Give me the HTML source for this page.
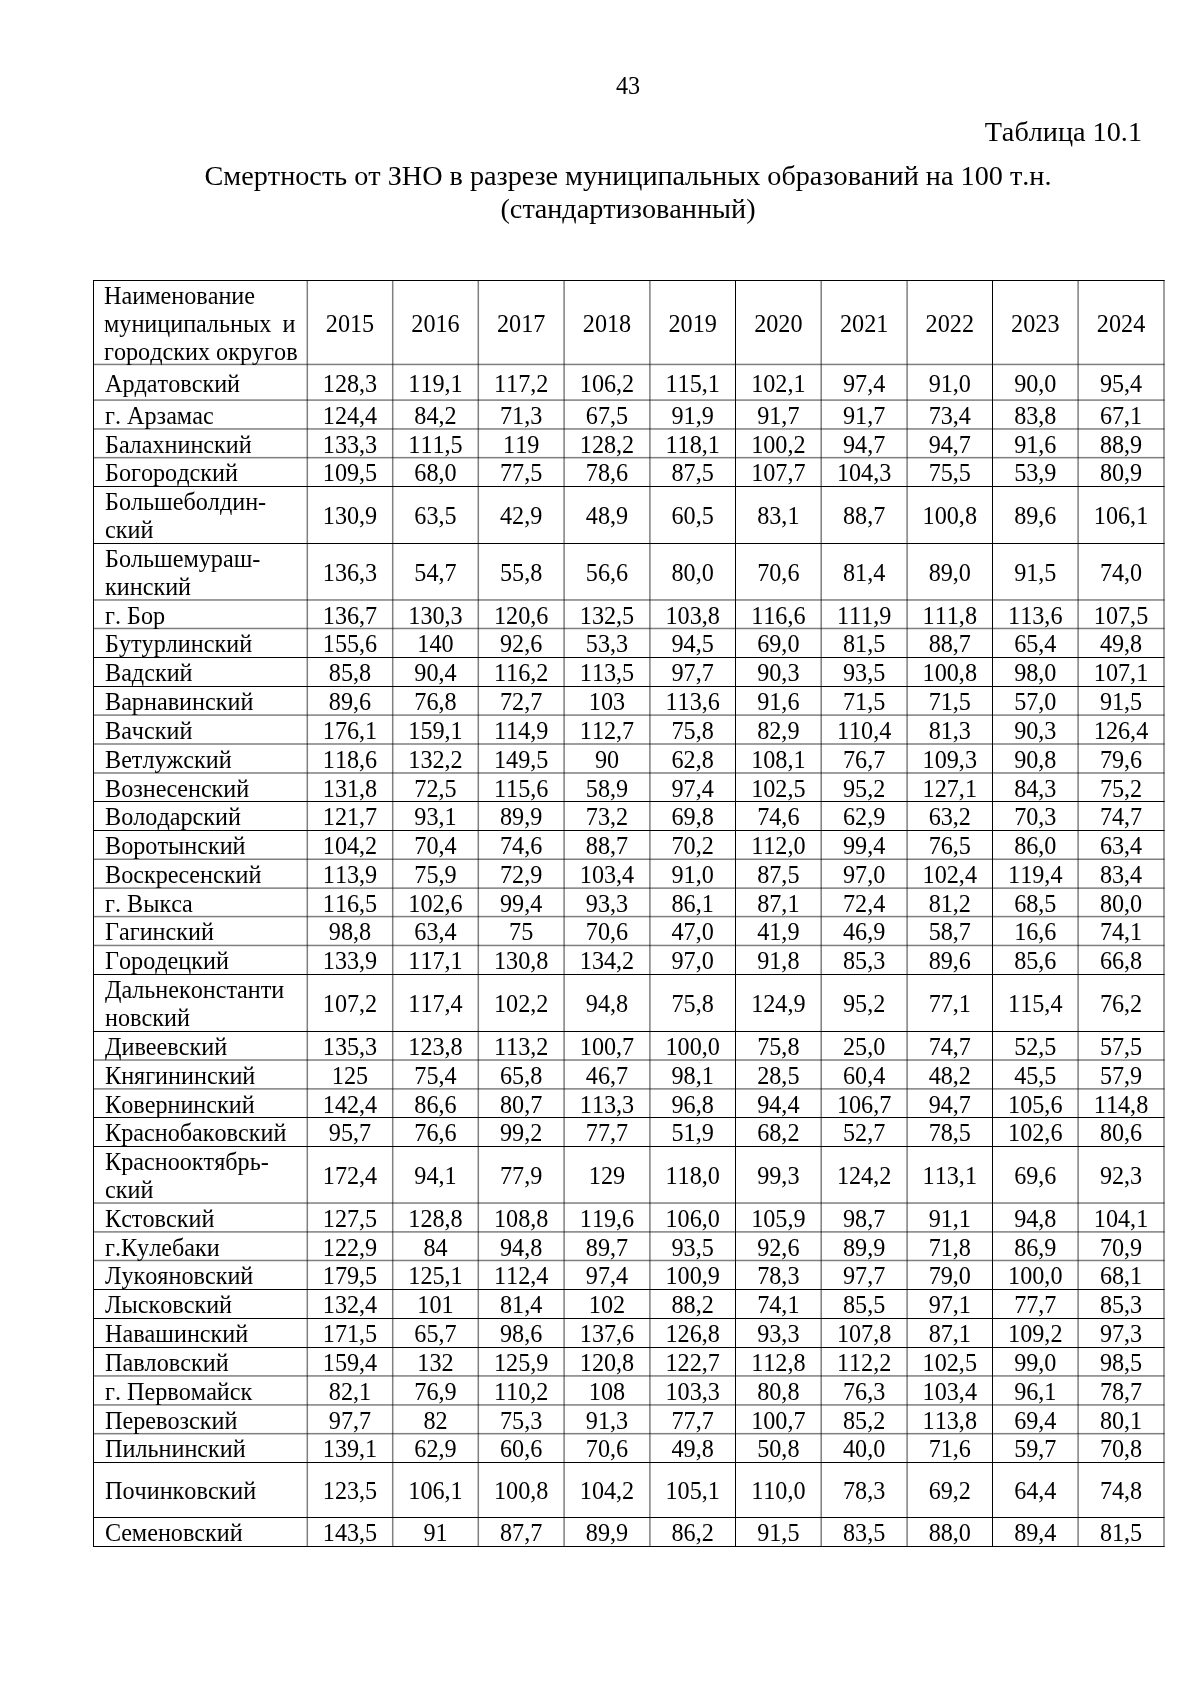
<!DOCTYPE html>
<html lang="ru"><head><meta charset="utf-8"><title>Таблица 10.1</title>
<style>
html,body{margin:0;padding:0;background:#fff}
#pg{position:relative;will-change:transform;width:1200px;height:1697px;overflow:hidden;background:#fff;color:#000}
#pg div{position:absolute;white-space:nowrap;font-kerning:none;font-variant-ligatures:none}
.t12{font-family:"Liberation Serif","Times New Roman",serif;font-size:24.19px;line-height:28px}
.t14{font-family:"Liberation Serif","Times New Roman",serif;font-size:28.22px;line-height:32px}
.c{text-align:center}
.r{text-align:right}
</style></head><body><div id="pg">
<div class="t12 c" style="left:528.0px;top:72px;width:200px">43</div>
<div class="t14 r" style="left:742px;top:116px;width:400px">Таблица 10.1</div>
<div class="t14 c" style="left:128.0px;top:160px;width:1000px">Смертность от ЗНО в разрезе муниципальных образований на 100 т.н.</div>
<div class="t14 c" style="left:128.0px;top:193px;width:1000px">(стандартизованный)</div>
<svg width="1200" height="1697" viewBox="0 0 1200 1697" style="position:absolute;left:0;top:0"><rect x="93" y="280" width="1071.6" height="1"/><rect x="93" y="363.69" width="1071.6" height="1.5" fill-opacity="0.5"/><rect x="93" y="399.34" width="1071.6" height="1.5" fill-opacity="0.5"/><rect x="93" y="428.21" width="1071.6" height="1.5" fill-opacity="0.5"/><rect x="93" y="456.91" width="1071.6" height="1.5" fill-opacity="0.5"/><rect x="93" y="486" width="1071.6" height="1"/><rect x="93" y="543" width="1071.6" height="1"/><rect x="93" y="599.22" width="1071.6" height="1.5" fill-opacity="0.5"/><rect x="93" y="627.74" width="1071.6" height="1.5" fill-opacity="0.5"/><rect x="93" y="657" width="1071.6" height="1"/><rect x="93" y="686" width="1071.6" height="1"/><rect x="93" y="714.35" width="1071.6" height="1.5" fill-opacity="0.5"/><rect x="93" y="743.25" width="1071.6" height="1.5" fill-opacity="0.5"/><rect x="93" y="772.23" width="1071.6" height="1.5" fill-opacity="0.5"/><rect x="93" y="801" width="1071.6" height="1"/><rect x="93" y="830" width="1071.6" height="1"/><rect x="93" y="858.50" width="1071.6" height="1.5" fill-opacity="0.5"/><rect x="93" y="887.38" width="1071.6" height="1.5" fill-opacity="0.5"/><rect x="93" y="915.84" width="1071.6" height="1.5" fill-opacity="0.5"/><rect x="93" y="944.71" width="1071.6" height="1.5" fill-opacity="0.5"/><rect x="93" y="974" width="1071.6" height="1"/><rect x="93" y="1031" width="1071.6" height="1"/><rect x="93" y="1059.27" width="1071.6" height="1.5" fill-opacity="0.5"/><rect x="93" y="1088.14" width="1071.6" height="1.5" fill-opacity="0.5"/><rect x="93" y="1117" width="1071.6" height="1"/><rect x="93" y="1146" width="1071.6" height="1"/><rect x="93" y="1202.29" width="1071.6" height="1.5" fill-opacity="0.5"/><rect x="93" y="1231.15" width="1071.6" height="1.5" fill-opacity="0.5"/><rect x="93" y="1259.74" width="1071.6" height="1.5" fill-opacity="0.5"/><rect x="93" y="1289" width="1071.6" height="1"/><rect x="93" y="1318" width="1071.6" height="1"/><rect x="93" y="1347" width="1071.6" height="1"/><rect x="93" y="1375.18" width="1071.6" height="1.5" fill-opacity="0.5"/><rect x="93" y="1404.17" width="1071.6" height="1.5" fill-opacity="0.5"/><rect x="93" y="1432.93" width="1071.6" height="1.5" fill-opacity="0.5"/><rect x="93" y="1462" width="1071.6" height="1"/><rect x="93" y="1517" width="1071.6" height="1"/><rect x="93" y="1546" width="1071.6" height="1"/><rect x="93" y="280" width="1" height="1267"/><rect x="306.55" y="280" width="1.5" height="1267" fill-opacity="0.5"/><rect x="391.95" y="280" width="1.5" height="1267" fill-opacity="0.5"/><rect x="477.55" y="280" width="1.5" height="1267" fill-opacity="0.5"/><rect x="563.35" y="280" width="1.5" height="1267" fill-opacity="0.5"/><rect x="649.15" y="280" width="1.5" height="1267" fill-opacity="0.5"/><rect x="735" y="280" width="1" height="1267"/><rect x="820.45" y="280" width="1.5" height="1267" fill-opacity="0.5"/><rect x="906.35" y="280" width="1.5" height="1267" fill-opacity="0.5"/><rect x="992" y="280" width="1" height="1267"/><rect x="1077.35" y="280" width="1.5" height="1267" fill-opacity="0.5"/><rect x="1163.25" y="280" width="1.5" height="1267" fill-opacity="0.5"/></svg>
<div class="t12" style="left:104px;top:282px">Наименование</div>
<div class="t12" style="left:104px;top:310px">муниципальных</div>
<div class="t12 r" style="left:-104.5px;top:310px;width:400px">и</div>
<div class="t12" style="left:104px;top:338px">городских округов</div>
<div class="t12 c" style="left:250.0px;top:310px;width:200px">2015</div>
<div class="t12 c" style="left:335.5px;top:310px;width:200px">2016</div>
<div class="t12 c" style="left:421.2px;top:310px;width:200px">2017</div>
<div class="t12 c" style="left:507.0px;top:310px;width:200px">2018</div>
<div class="t12 c" style="left:592.7px;top:310px;width:200px">2019</div>
<div class="t12 c" style="left:678.35px;top:310px;width:200px">2020</div>
<div class="t12 c" style="left:764.15px;top:310px;width:200px">2021</div>
<div class="t12 c" style="left:849.8px;top:310px;width:200px">2022</div>
<div class="t12 c" style="left:935.3px;top:310px;width:200px">2023</div>
<div class="t12 c" style="left:1021.05px;top:310px;width:200px">2024</div>
<div class="t12" style="left:105px;top:370px">Ардатовский</div>
<div class="t12 c" style="left:250.0px;top:370px;width:200px">128,3</div>
<div class="t12 c" style="left:335.5px;top:370px;width:200px">119,1</div>
<div class="t12 c" style="left:421.2px;top:370px;width:200px">117,2</div>
<div class="t12 c" style="left:507.0px;top:370px;width:200px">106,2</div>
<div class="t12 c" style="left:592.7px;top:370px;width:200px">115,1</div>
<div class="t12 c" style="left:678.35px;top:370px;width:200px">102,1</div>
<div class="t12 c" style="left:764.15px;top:370px;width:200px">97,4</div>
<div class="t12 c" style="left:849.8px;top:370px;width:200px">91,0</div>
<div class="t12 c" style="left:935.3px;top:370px;width:200px">90,0</div>
<div class="t12 c" style="left:1021.05px;top:370px;width:200px">95,4</div>
<div class="t12" style="left:105px;top:402px">г. Арзамас</div>
<div class="t12 c" style="left:250.0px;top:402px;width:200px">124,4</div>
<div class="t12 c" style="left:335.5px;top:402px;width:200px">84,2</div>
<div class="t12 c" style="left:421.2px;top:402px;width:200px">71,3</div>
<div class="t12 c" style="left:507.0px;top:402px;width:200px">67,5</div>
<div class="t12 c" style="left:592.7px;top:402px;width:200px">91,9</div>
<div class="t12 c" style="left:678.35px;top:402px;width:200px">91,7</div>
<div class="t12 c" style="left:764.15px;top:402px;width:200px">91,7</div>
<div class="t12 c" style="left:849.8px;top:402px;width:200px">73,4</div>
<div class="t12 c" style="left:935.3px;top:402px;width:200px">83,8</div>
<div class="t12 c" style="left:1021.05px;top:402px;width:200px">67,1</div>
<div class="t12" style="left:105px;top:431px">Балахнинский</div>
<div class="t12 c" style="left:250.0px;top:431px;width:200px">133,3</div>
<div class="t12 c" style="left:335.5px;top:431px;width:200px">111,5</div>
<div class="t12 c" style="left:421.2px;top:431px;width:200px">119</div>
<div class="t12 c" style="left:507.0px;top:431px;width:200px">128,2</div>
<div class="t12 c" style="left:592.7px;top:431px;width:200px">118,1</div>
<div class="t12 c" style="left:678.35px;top:431px;width:200px">100,2</div>
<div class="t12 c" style="left:764.15px;top:431px;width:200px">94,7</div>
<div class="t12 c" style="left:849.8px;top:431px;width:200px">94,7</div>
<div class="t12 c" style="left:935.3px;top:431px;width:200px">91,6</div>
<div class="t12 c" style="left:1021.05px;top:431px;width:200px">88,9</div>
<div class="t12" style="left:105px;top:459px">Богородский</div>
<div class="t12 c" style="left:250.0px;top:459px;width:200px">109,5</div>
<div class="t12 c" style="left:335.5px;top:459px;width:200px">68,0</div>
<div class="t12 c" style="left:421.2px;top:459px;width:200px">77,5</div>
<div class="t12 c" style="left:507.0px;top:459px;width:200px">78,6</div>
<div class="t12 c" style="left:592.7px;top:459px;width:200px">87,5</div>
<div class="t12 c" style="left:678.35px;top:459px;width:200px">107,7</div>
<div class="t12 c" style="left:764.15px;top:459px;width:200px">104,3</div>
<div class="t12 c" style="left:849.8px;top:459px;width:200px">75,5</div>
<div class="t12 c" style="left:935.3px;top:459px;width:200px">53,9</div>
<div class="t12 c" style="left:1021.05px;top:459px;width:200px">80,9</div>
<div class="t12" style="left:105px;top:488px">Большеболдин-</div>
<div class="t12" style="left:105px;top:516px">ский</div>
<div class="t12 c" style="left:250.0px;top:502px;width:200px">130,9</div>
<div class="t12 c" style="left:335.5px;top:502px;width:200px">63,5</div>
<div class="t12 c" style="left:421.2px;top:502px;width:200px">42,9</div>
<div class="t12 c" style="left:507.0px;top:502px;width:200px">48,9</div>
<div class="t12 c" style="left:592.7px;top:502px;width:200px">60,5</div>
<div class="t12 c" style="left:678.35px;top:502px;width:200px">83,1</div>
<div class="t12 c" style="left:764.15px;top:502px;width:200px">88,7</div>
<div class="t12 c" style="left:849.8px;top:502px;width:200px">100,8</div>
<div class="t12 c" style="left:935.3px;top:502px;width:200px">89,6</div>
<div class="t12 c" style="left:1021.05px;top:502px;width:200px">106,1</div>
<div class="t12" style="left:105px;top:545px">Большемураш-</div>
<div class="t12" style="left:105px;top:573px">кинский</div>
<div class="t12 c" style="left:250.0px;top:559px;width:200px">136,3</div>
<div class="t12 c" style="left:335.5px;top:559px;width:200px">54,7</div>
<div class="t12 c" style="left:421.2px;top:559px;width:200px">55,8</div>
<div class="t12 c" style="left:507.0px;top:559px;width:200px">56,6</div>
<div class="t12 c" style="left:592.7px;top:559px;width:200px">80,0</div>
<div class="t12 c" style="left:678.35px;top:559px;width:200px">70,6</div>
<div class="t12 c" style="left:764.15px;top:559px;width:200px">81,4</div>
<div class="t12 c" style="left:849.8px;top:559px;width:200px">89,0</div>
<div class="t12 c" style="left:935.3px;top:559px;width:200px">91,5</div>
<div class="t12 c" style="left:1021.05px;top:559px;width:200px">74,0</div>
<div class="t12" style="left:105px;top:602px">г. Бор</div>
<div class="t12 c" style="left:250.0px;top:602px;width:200px">136,7</div>
<div class="t12 c" style="left:335.5px;top:602px;width:200px">130,3</div>
<div class="t12 c" style="left:421.2px;top:602px;width:200px">120,6</div>
<div class="t12 c" style="left:507.0px;top:602px;width:200px">132,5</div>
<div class="t12 c" style="left:592.7px;top:602px;width:200px">103,8</div>
<div class="t12 c" style="left:678.35px;top:602px;width:200px">116,6</div>
<div class="t12 c" style="left:764.15px;top:602px;width:200px">111,9</div>
<div class="t12 c" style="left:849.8px;top:602px;width:200px">111,8</div>
<div class="t12 c" style="left:935.3px;top:602px;width:200px">113,6</div>
<div class="t12 c" style="left:1021.05px;top:602px;width:200px">107,5</div>
<div class="t12" style="left:105px;top:630px">Бутурлинский</div>
<div class="t12 c" style="left:250.0px;top:630px;width:200px">155,6</div>
<div class="t12 c" style="left:335.5px;top:630px;width:200px">140</div>
<div class="t12 c" style="left:421.2px;top:630px;width:200px">92,6</div>
<div class="t12 c" style="left:507.0px;top:630px;width:200px">53,3</div>
<div class="t12 c" style="left:592.7px;top:630px;width:200px">94,5</div>
<div class="t12 c" style="left:678.35px;top:630px;width:200px">69,0</div>
<div class="t12 c" style="left:764.15px;top:630px;width:200px">81,5</div>
<div class="t12 c" style="left:849.8px;top:630px;width:200px">88,7</div>
<div class="t12 c" style="left:935.3px;top:630px;width:200px">65,4</div>
<div class="t12 c" style="left:1021.05px;top:630px;width:200px">49,8</div>
<div class="t12" style="left:105px;top:659px">Вадский</div>
<div class="t12 c" style="left:250.0px;top:659px;width:200px">85,8</div>
<div class="t12 c" style="left:335.5px;top:659px;width:200px">90,4</div>
<div class="t12 c" style="left:421.2px;top:659px;width:200px">116,2</div>
<div class="t12 c" style="left:507.0px;top:659px;width:200px">113,5</div>
<div class="t12 c" style="left:592.7px;top:659px;width:200px">97,7</div>
<div class="t12 c" style="left:678.35px;top:659px;width:200px">90,3</div>
<div class="t12 c" style="left:764.15px;top:659px;width:200px">93,5</div>
<div class="t12 c" style="left:849.8px;top:659px;width:200px">100,8</div>
<div class="t12 c" style="left:935.3px;top:659px;width:200px">98,0</div>
<div class="t12 c" style="left:1021.05px;top:659px;width:200px">107,1</div>
<div class="t12" style="left:105px;top:688px">Варнавинский</div>
<div class="t12 c" style="left:250.0px;top:688px;width:200px">89,6</div>
<div class="t12 c" style="left:335.5px;top:688px;width:200px">76,8</div>
<div class="t12 c" style="left:421.2px;top:688px;width:200px">72,7</div>
<div class="t12 c" style="left:507.0px;top:688px;width:200px">103</div>
<div class="t12 c" style="left:592.7px;top:688px;width:200px">113,6</div>
<div class="t12 c" style="left:678.35px;top:688px;width:200px">91,6</div>
<div class="t12 c" style="left:764.15px;top:688px;width:200px">71,5</div>
<div class="t12 c" style="left:849.8px;top:688px;width:200px">71,5</div>
<div class="t12 c" style="left:935.3px;top:688px;width:200px">57,0</div>
<div class="t12 c" style="left:1021.05px;top:688px;width:200px">91,5</div>
<div class="t12" style="left:105px;top:717px">Вачский</div>
<div class="t12 c" style="left:250.0px;top:717px;width:200px">176,1</div>
<div class="t12 c" style="left:335.5px;top:717px;width:200px">159,1</div>
<div class="t12 c" style="left:421.2px;top:717px;width:200px">114,9</div>
<div class="t12 c" style="left:507.0px;top:717px;width:200px">112,7</div>
<div class="t12 c" style="left:592.7px;top:717px;width:200px">75,8</div>
<div class="t12 c" style="left:678.35px;top:717px;width:200px">82,9</div>
<div class="t12 c" style="left:764.15px;top:717px;width:200px">110,4</div>
<div class="t12 c" style="left:849.8px;top:717px;width:200px">81,3</div>
<div class="t12 c" style="left:935.3px;top:717px;width:200px">90,3</div>
<div class="t12 c" style="left:1021.05px;top:717px;width:200px">126,4</div>
<div class="t12" style="left:105px;top:746px">Ветлужский</div>
<div class="t12 c" style="left:250.0px;top:746px;width:200px">118,6</div>
<div class="t12 c" style="left:335.5px;top:746px;width:200px">132,2</div>
<div class="t12 c" style="left:421.2px;top:746px;width:200px">149,5</div>
<div class="t12 c" style="left:507.0px;top:746px;width:200px">90</div>
<div class="t12 c" style="left:592.7px;top:746px;width:200px">62,8</div>
<div class="t12 c" style="left:678.35px;top:746px;width:200px">108,1</div>
<div class="t12 c" style="left:764.15px;top:746px;width:200px">76,7</div>
<div class="t12 c" style="left:849.8px;top:746px;width:200px">109,3</div>
<div class="t12 c" style="left:935.3px;top:746px;width:200px">90,8</div>
<div class="t12 c" style="left:1021.05px;top:746px;width:200px">79,6</div>
<div class="t12" style="left:105px;top:775px">Вознесенский</div>
<div class="t12 c" style="left:250.0px;top:775px;width:200px">131,8</div>
<div class="t12 c" style="left:335.5px;top:775px;width:200px">72,5</div>
<div class="t12 c" style="left:421.2px;top:775px;width:200px">115,6</div>
<div class="t12 c" style="left:507.0px;top:775px;width:200px">58,9</div>
<div class="t12 c" style="left:592.7px;top:775px;width:200px">97,4</div>
<div class="t12 c" style="left:678.35px;top:775px;width:200px">102,5</div>
<div class="t12 c" style="left:764.15px;top:775px;width:200px">95,2</div>
<div class="t12 c" style="left:849.8px;top:775px;width:200px">127,1</div>
<div class="t12 c" style="left:935.3px;top:775px;width:200px">84,3</div>
<div class="t12 c" style="left:1021.05px;top:775px;width:200px">75,2</div>
<div class="t12" style="left:105px;top:803px">Володарский</div>
<div class="t12 c" style="left:250.0px;top:803px;width:200px">121,7</div>
<div class="t12 c" style="left:335.5px;top:803px;width:200px">93,1</div>
<div class="t12 c" style="left:421.2px;top:803px;width:200px">89,9</div>
<div class="t12 c" style="left:507.0px;top:803px;width:200px">73,2</div>
<div class="t12 c" style="left:592.7px;top:803px;width:200px">69,8</div>
<div class="t12 c" style="left:678.35px;top:803px;width:200px">74,6</div>
<div class="t12 c" style="left:764.15px;top:803px;width:200px">62,9</div>
<div class="t12 c" style="left:849.8px;top:803px;width:200px">63,2</div>
<div class="t12 c" style="left:935.3px;top:803px;width:200px">70,3</div>
<div class="t12 c" style="left:1021.05px;top:803px;width:200px">74,7</div>
<div class="t12" style="left:105px;top:832px">Воротынский</div>
<div class="t12 c" style="left:250.0px;top:832px;width:200px">104,2</div>
<div class="t12 c" style="left:335.5px;top:832px;width:200px">70,4</div>
<div class="t12 c" style="left:421.2px;top:832px;width:200px">74,6</div>
<div class="t12 c" style="left:507.0px;top:832px;width:200px">88,7</div>
<div class="t12 c" style="left:592.7px;top:832px;width:200px">70,2</div>
<div class="t12 c" style="left:678.35px;top:832px;width:200px">112,0</div>
<div class="t12 c" style="left:764.15px;top:832px;width:200px">99,4</div>
<div class="t12 c" style="left:849.8px;top:832px;width:200px">76,5</div>
<div class="t12 c" style="left:935.3px;top:832px;width:200px">86,0</div>
<div class="t12 c" style="left:1021.05px;top:832px;width:200px">63,4</div>
<div class="t12" style="left:105px;top:861px">Воскресенский</div>
<div class="t12 c" style="left:250.0px;top:861px;width:200px">113,9</div>
<div class="t12 c" style="left:335.5px;top:861px;width:200px">75,9</div>
<div class="t12 c" style="left:421.2px;top:861px;width:200px">72,9</div>
<div class="t12 c" style="left:507.0px;top:861px;width:200px">103,4</div>
<div class="t12 c" style="left:592.7px;top:861px;width:200px">91,0</div>
<div class="t12 c" style="left:678.35px;top:861px;width:200px">87,5</div>
<div class="t12 c" style="left:764.15px;top:861px;width:200px">97,0</div>
<div class="t12 c" style="left:849.8px;top:861px;width:200px">102,4</div>
<div class="t12 c" style="left:935.3px;top:861px;width:200px">119,4</div>
<div class="t12 c" style="left:1021.05px;top:861px;width:200px">83,4</div>
<div class="t12" style="left:105px;top:890px">г. Выкса</div>
<div class="t12 c" style="left:250.0px;top:890px;width:200px">116,5</div>
<div class="t12 c" style="left:335.5px;top:890px;width:200px">102,6</div>
<div class="t12 c" style="left:421.2px;top:890px;width:200px">99,4</div>
<div class="t12 c" style="left:507.0px;top:890px;width:200px">93,3</div>
<div class="t12 c" style="left:592.7px;top:890px;width:200px">86,1</div>
<div class="t12 c" style="left:678.35px;top:890px;width:200px">87,1</div>
<div class="t12 c" style="left:764.15px;top:890px;width:200px">72,4</div>
<div class="t12 c" style="left:849.8px;top:890px;width:200px">81,2</div>
<div class="t12 c" style="left:935.3px;top:890px;width:200px">68,5</div>
<div class="t12 c" style="left:1021.05px;top:890px;width:200px">80,0</div>
<div class="t12" style="left:105px;top:918px">Гагинский</div>
<div class="t12 c" style="left:250.0px;top:918px;width:200px">98,8</div>
<div class="t12 c" style="left:335.5px;top:918px;width:200px">63,4</div>
<div class="t12 c" style="left:421.2px;top:918px;width:200px">75</div>
<div class="t12 c" style="left:507.0px;top:918px;width:200px">70,6</div>
<div class="t12 c" style="left:592.7px;top:918px;width:200px">47,0</div>
<div class="t12 c" style="left:678.35px;top:918px;width:200px">41,9</div>
<div class="t12 c" style="left:764.15px;top:918px;width:200px">46,9</div>
<div class="t12 c" style="left:849.8px;top:918px;width:200px">58,7</div>
<div class="t12 c" style="left:935.3px;top:918px;width:200px">16,6</div>
<div class="t12 c" style="left:1021.05px;top:918px;width:200px">74,1</div>
<div class="t12" style="left:105px;top:947px">Городецкий</div>
<div class="t12 c" style="left:250.0px;top:947px;width:200px">133,9</div>
<div class="t12 c" style="left:335.5px;top:947px;width:200px">117,1</div>
<div class="t12 c" style="left:421.2px;top:947px;width:200px">130,8</div>
<div class="t12 c" style="left:507.0px;top:947px;width:200px">134,2</div>
<div class="t12 c" style="left:592.7px;top:947px;width:200px">97,0</div>
<div class="t12 c" style="left:678.35px;top:947px;width:200px">91,8</div>
<div class="t12 c" style="left:764.15px;top:947px;width:200px">85,3</div>
<div class="t12 c" style="left:849.8px;top:947px;width:200px">89,6</div>
<div class="t12 c" style="left:935.3px;top:947px;width:200px">85,6</div>
<div class="t12 c" style="left:1021.05px;top:947px;width:200px">66,8</div>
<div class="t12" style="left:105px;top:976px">Дальнеконстанти</div>
<div class="t12" style="left:105px;top:1004px">новский</div>
<div class="t12 c" style="left:250.0px;top:990px;width:200px">107,2</div>
<div class="t12 c" style="left:335.5px;top:990px;width:200px">117,4</div>
<div class="t12 c" style="left:421.2px;top:990px;width:200px">102,2</div>
<div class="t12 c" style="left:507.0px;top:990px;width:200px">94,8</div>
<div class="t12 c" style="left:592.7px;top:990px;width:200px">75,8</div>
<div class="t12 c" style="left:678.35px;top:990px;width:200px">124,9</div>
<div class="t12 c" style="left:764.15px;top:990px;width:200px">95,2</div>
<div class="t12 c" style="left:849.8px;top:990px;width:200px">77,1</div>
<div class="t12 c" style="left:935.3px;top:990px;width:200px">115,4</div>
<div class="t12 c" style="left:1021.05px;top:990px;width:200px">76,2</div>
<div class="t12" style="left:105px;top:1033px">Дивеевский</div>
<div class="t12 c" style="left:250.0px;top:1033px;width:200px">135,3</div>
<div class="t12 c" style="left:335.5px;top:1033px;width:200px">123,8</div>
<div class="t12 c" style="left:421.2px;top:1033px;width:200px">113,2</div>
<div class="t12 c" style="left:507.0px;top:1033px;width:200px">100,7</div>
<div class="t12 c" style="left:592.7px;top:1033px;width:200px">100,0</div>
<div class="t12 c" style="left:678.35px;top:1033px;width:200px">75,8</div>
<div class="t12 c" style="left:764.15px;top:1033px;width:200px">25,0</div>
<div class="t12 c" style="left:849.8px;top:1033px;width:200px">74,7</div>
<div class="t12 c" style="left:935.3px;top:1033px;width:200px">52,5</div>
<div class="t12 c" style="left:1021.05px;top:1033px;width:200px">57,5</div>
<div class="t12" style="left:105px;top:1062px">Княгининский</div>
<div class="t12 c" style="left:250.0px;top:1062px;width:200px">125</div>
<div class="t12 c" style="left:335.5px;top:1062px;width:200px">75,4</div>
<div class="t12 c" style="left:421.2px;top:1062px;width:200px">65,8</div>
<div class="t12 c" style="left:507.0px;top:1062px;width:200px">46,7</div>
<div class="t12 c" style="left:592.7px;top:1062px;width:200px">98,1</div>
<div class="t12 c" style="left:678.35px;top:1062px;width:200px">28,5</div>
<div class="t12 c" style="left:764.15px;top:1062px;width:200px">60,4</div>
<div class="t12 c" style="left:849.8px;top:1062px;width:200px">48,2</div>
<div class="t12 c" style="left:935.3px;top:1062px;width:200px">45,5</div>
<div class="t12 c" style="left:1021.05px;top:1062px;width:200px">57,9</div>
<div class="t12" style="left:105px;top:1091px">Ковернинский</div>
<div class="t12 c" style="left:250.0px;top:1091px;width:200px">142,4</div>
<div class="t12 c" style="left:335.5px;top:1091px;width:200px">86,6</div>
<div class="t12 c" style="left:421.2px;top:1091px;width:200px">80,7</div>
<div class="t12 c" style="left:507.0px;top:1091px;width:200px">113,3</div>
<div class="t12 c" style="left:592.7px;top:1091px;width:200px">96,8</div>
<div class="t12 c" style="left:678.35px;top:1091px;width:200px">94,4</div>
<div class="t12 c" style="left:764.15px;top:1091px;width:200px">106,7</div>
<div class="t12 c" style="left:849.8px;top:1091px;width:200px">94,7</div>
<div class="t12 c" style="left:935.3px;top:1091px;width:200px">105,6</div>
<div class="t12 c" style="left:1021.05px;top:1091px;width:200px">114,8</div>
<div class="t12" style="left:105px;top:1119px">Краснобаковский</div>
<div class="t12 c" style="left:250.0px;top:1119px;width:200px">95,7</div>
<div class="t12 c" style="left:335.5px;top:1119px;width:200px">76,6</div>
<div class="t12 c" style="left:421.2px;top:1119px;width:200px">99,2</div>
<div class="t12 c" style="left:507.0px;top:1119px;width:200px">77,7</div>
<div class="t12 c" style="left:592.7px;top:1119px;width:200px">51,9</div>
<div class="t12 c" style="left:678.35px;top:1119px;width:200px">68,2</div>
<div class="t12 c" style="left:764.15px;top:1119px;width:200px">52,7</div>
<div class="t12 c" style="left:849.8px;top:1119px;width:200px">78,5</div>
<div class="t12 c" style="left:935.3px;top:1119px;width:200px">102,6</div>
<div class="t12 c" style="left:1021.05px;top:1119px;width:200px">80,6</div>
<div class="t12" style="left:105px;top:1148px">Краснооктябрь-</div>
<div class="t12" style="left:105px;top:1176px">ский</div>
<div class="t12 c" style="left:250.0px;top:1162px;width:200px">172,4</div>
<div class="t12 c" style="left:335.5px;top:1162px;width:200px">94,1</div>
<div class="t12 c" style="left:421.2px;top:1162px;width:200px">77,9</div>
<div class="t12 c" style="left:507.0px;top:1162px;width:200px">129</div>
<div class="t12 c" style="left:592.7px;top:1162px;width:200px">118,0</div>
<div class="t12 c" style="left:678.35px;top:1162px;width:200px">99,3</div>
<div class="t12 c" style="left:764.15px;top:1162px;width:200px">124,2</div>
<div class="t12 c" style="left:849.8px;top:1162px;width:200px">113,1</div>
<div class="t12 c" style="left:935.3px;top:1162px;width:200px">69,6</div>
<div class="t12 c" style="left:1021.05px;top:1162px;width:200px">92,3</div>
<div class="t12" style="left:105px;top:1205px">Кстовский</div>
<div class="t12 c" style="left:250.0px;top:1205px;width:200px">127,5</div>
<div class="t12 c" style="left:335.5px;top:1205px;width:200px">128,8</div>
<div class="t12 c" style="left:421.2px;top:1205px;width:200px">108,8</div>
<div class="t12 c" style="left:507.0px;top:1205px;width:200px">119,6</div>
<div class="t12 c" style="left:592.7px;top:1205px;width:200px">106,0</div>
<div class="t12 c" style="left:678.35px;top:1205px;width:200px">105,9</div>
<div class="t12 c" style="left:764.15px;top:1205px;width:200px">98,7</div>
<div class="t12 c" style="left:849.8px;top:1205px;width:200px">91,1</div>
<div class="t12 c" style="left:935.3px;top:1205px;width:200px">94,8</div>
<div class="t12 c" style="left:1021.05px;top:1205px;width:200px">104,1</div>
<div class="t12" style="left:105px;top:1234px">г.Кулебаки</div>
<div class="t12 c" style="left:250.0px;top:1234px;width:200px">122,9</div>
<div class="t12 c" style="left:335.5px;top:1234px;width:200px">84</div>
<div class="t12 c" style="left:421.2px;top:1234px;width:200px">94,8</div>
<div class="t12 c" style="left:507.0px;top:1234px;width:200px">89,7</div>
<div class="t12 c" style="left:592.7px;top:1234px;width:200px">93,5</div>
<div class="t12 c" style="left:678.35px;top:1234px;width:200px">92,6</div>
<div class="t12 c" style="left:764.15px;top:1234px;width:200px">89,9</div>
<div class="t12 c" style="left:849.8px;top:1234px;width:200px">71,8</div>
<div class="t12 c" style="left:935.3px;top:1234px;width:200px">86,9</div>
<div class="t12 c" style="left:1021.05px;top:1234px;width:200px">70,9</div>
<div class="t12" style="left:105px;top:1262px">Лукояновский</div>
<div class="t12 c" style="left:250.0px;top:1262px;width:200px">179,5</div>
<div class="t12 c" style="left:335.5px;top:1262px;width:200px">125,1</div>
<div class="t12 c" style="left:421.2px;top:1262px;width:200px">112,4</div>
<div class="t12 c" style="left:507.0px;top:1262px;width:200px">97,4</div>
<div class="t12 c" style="left:592.7px;top:1262px;width:200px">100,9</div>
<div class="t12 c" style="left:678.35px;top:1262px;width:200px">78,3</div>
<div class="t12 c" style="left:764.15px;top:1262px;width:200px">97,7</div>
<div class="t12 c" style="left:849.8px;top:1262px;width:200px">79,0</div>
<div class="t12 c" style="left:935.3px;top:1262px;width:200px">100,0</div>
<div class="t12 c" style="left:1021.05px;top:1262px;width:200px">68,1</div>
<div class="t12" style="left:105px;top:1291px">Лысковский</div>
<div class="t12 c" style="left:250.0px;top:1291px;width:200px">132,4</div>
<div class="t12 c" style="left:335.5px;top:1291px;width:200px">101</div>
<div class="t12 c" style="left:421.2px;top:1291px;width:200px">81,4</div>
<div class="t12 c" style="left:507.0px;top:1291px;width:200px">102</div>
<div class="t12 c" style="left:592.7px;top:1291px;width:200px">88,2</div>
<div class="t12 c" style="left:678.35px;top:1291px;width:200px">74,1</div>
<div class="t12 c" style="left:764.15px;top:1291px;width:200px">85,5</div>
<div class="t12 c" style="left:849.8px;top:1291px;width:200px">97,1</div>
<div class="t12 c" style="left:935.3px;top:1291px;width:200px">77,7</div>
<div class="t12 c" style="left:1021.05px;top:1291px;width:200px">85,3</div>
<div class="t12" style="left:105px;top:1320px">Навашинский</div>
<div class="t12 c" style="left:250.0px;top:1320px;width:200px">171,5</div>
<div class="t12 c" style="left:335.5px;top:1320px;width:200px">65,7</div>
<div class="t12 c" style="left:421.2px;top:1320px;width:200px">98,6</div>
<div class="t12 c" style="left:507.0px;top:1320px;width:200px">137,6</div>
<div class="t12 c" style="left:592.7px;top:1320px;width:200px">126,8</div>
<div class="t12 c" style="left:678.35px;top:1320px;width:200px">93,3</div>
<div class="t12 c" style="left:764.15px;top:1320px;width:200px">107,8</div>
<div class="t12 c" style="left:849.8px;top:1320px;width:200px">87,1</div>
<div class="t12 c" style="left:935.3px;top:1320px;width:200px">109,2</div>
<div class="t12 c" style="left:1021.05px;top:1320px;width:200px">97,3</div>
<div class="t12" style="left:105px;top:1349px">Павловский</div>
<div class="t12 c" style="left:250.0px;top:1349px;width:200px">159,4</div>
<div class="t12 c" style="left:335.5px;top:1349px;width:200px">132</div>
<div class="t12 c" style="left:421.2px;top:1349px;width:200px">125,9</div>
<div class="t12 c" style="left:507.0px;top:1349px;width:200px">120,8</div>
<div class="t12 c" style="left:592.7px;top:1349px;width:200px">122,7</div>
<div class="t12 c" style="left:678.35px;top:1349px;width:200px">112,8</div>
<div class="t12 c" style="left:764.15px;top:1349px;width:200px">112,2</div>
<div class="t12 c" style="left:849.8px;top:1349px;width:200px">102,5</div>
<div class="t12 c" style="left:935.3px;top:1349px;width:200px">99,0</div>
<div class="t12 c" style="left:1021.05px;top:1349px;width:200px">98,5</div>
<div class="t12" style="left:105px;top:1378px">г. Первомайск</div>
<div class="t12 c" style="left:250.0px;top:1378px;width:200px">82,1</div>
<div class="t12 c" style="left:335.5px;top:1378px;width:200px">76,9</div>
<div class="t12 c" style="left:421.2px;top:1378px;width:200px">110,2</div>
<div class="t12 c" style="left:507.0px;top:1378px;width:200px">108</div>
<div class="t12 c" style="left:592.7px;top:1378px;width:200px">103,3</div>
<div class="t12 c" style="left:678.35px;top:1378px;width:200px">80,8</div>
<div class="t12 c" style="left:764.15px;top:1378px;width:200px">76,3</div>
<div class="t12 c" style="left:849.8px;top:1378px;width:200px">103,4</div>
<div class="t12 c" style="left:935.3px;top:1378px;width:200px">96,1</div>
<div class="t12 c" style="left:1021.05px;top:1378px;width:200px">78,7</div>
<div class="t12" style="left:105px;top:1407px">Перевозский</div>
<div class="t12 c" style="left:250.0px;top:1407px;width:200px">97,7</div>
<div class="t12 c" style="left:335.5px;top:1407px;width:200px">82</div>
<div class="t12 c" style="left:421.2px;top:1407px;width:200px">75,3</div>
<div class="t12 c" style="left:507.0px;top:1407px;width:200px">91,3</div>
<div class="t12 c" style="left:592.7px;top:1407px;width:200px">77,7</div>
<div class="t12 c" style="left:678.35px;top:1407px;width:200px">100,7</div>
<div class="t12 c" style="left:764.15px;top:1407px;width:200px">85,2</div>
<div class="t12 c" style="left:849.8px;top:1407px;width:200px">113,8</div>
<div class="t12 c" style="left:935.3px;top:1407px;width:200px">69,4</div>
<div class="t12 c" style="left:1021.05px;top:1407px;width:200px">80,1</div>
<div class="t12" style="left:105px;top:1435px">Пильнинский</div>
<div class="t12 c" style="left:250.0px;top:1435px;width:200px">139,1</div>
<div class="t12 c" style="left:335.5px;top:1435px;width:200px">62,9</div>
<div class="t12 c" style="left:421.2px;top:1435px;width:200px">60,6</div>
<div class="t12 c" style="left:507.0px;top:1435px;width:200px">70,6</div>
<div class="t12 c" style="left:592.7px;top:1435px;width:200px">49,8</div>
<div class="t12 c" style="left:678.35px;top:1435px;width:200px">50,8</div>
<div class="t12 c" style="left:764.15px;top:1435px;width:200px">40,0</div>
<div class="t12 c" style="left:849.8px;top:1435px;width:200px">71,6</div>
<div class="t12 c" style="left:935.3px;top:1435px;width:200px">59,7</div>
<div class="t12 c" style="left:1021.05px;top:1435px;width:200px">70,8</div>
<div class="t12" style="left:105px;top:1477px">Починковский</div>
<div class="t12 c" style="left:250.0px;top:1477px;width:200px">123,5</div>
<div class="t12 c" style="left:335.5px;top:1477px;width:200px">106,1</div>
<div class="t12 c" style="left:421.2px;top:1477px;width:200px">100,8</div>
<div class="t12 c" style="left:507.0px;top:1477px;width:200px">104,2</div>
<div class="t12 c" style="left:592.7px;top:1477px;width:200px">105,1</div>
<div class="t12 c" style="left:678.35px;top:1477px;width:200px">110,0</div>
<div class="t12 c" style="left:764.15px;top:1477px;width:200px">78,3</div>
<div class="t12 c" style="left:849.8px;top:1477px;width:200px">69,2</div>
<div class="t12 c" style="left:935.3px;top:1477px;width:200px">64,4</div>
<div class="t12 c" style="left:1021.05px;top:1477px;width:200px">74,8</div>
<div class="t12" style="left:105px;top:1519px">Семеновский</div>
<div class="t12 c" style="left:250.0px;top:1519px;width:200px">143,5</div>
<div class="t12 c" style="left:335.5px;top:1519px;width:200px">91</div>
<div class="t12 c" style="left:421.2px;top:1519px;width:200px">87,7</div>
<div class="t12 c" style="left:507.0px;top:1519px;width:200px">89,9</div>
<div class="t12 c" style="left:592.7px;top:1519px;width:200px">86,2</div>
<div class="t12 c" style="left:678.35px;top:1519px;width:200px">91,5</div>
<div class="t12 c" style="left:764.15px;top:1519px;width:200px">83,5</div>
<div class="t12 c" style="left:849.8px;top:1519px;width:200px">88,0</div>
<div class="t12 c" style="left:935.3px;top:1519px;width:200px">89,4</div>
<div class="t12 c" style="left:1021.05px;top:1519px;width:200px">81,5</div>
</div></body></html>
